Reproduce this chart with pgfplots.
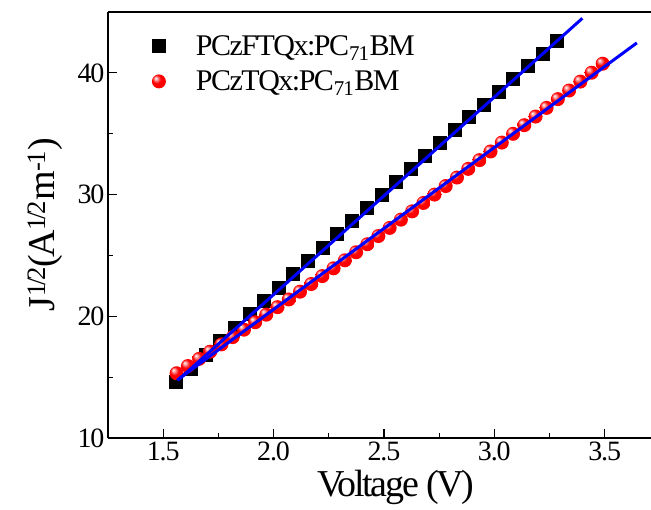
\documentclass[border=0pt]{standalone}
\usepackage{pgfplots}
\pgfplotsset{compat=1.18}
\usepackage{fontspec}
\setmainfont{Liberation Serif}

\definecolor{fitblue}{RGB}{0,0,255}
% glossy red ball like the original markers
\pgfdeclareradialshading{redball}{\pgfpoint{-12bp}{12bp}}{%
  color(0bp)=(white); color(6bp)=(red!40!white); color(15bp)=(red);
  color(35bp)=(red); color(50bp)=(red!88!black)}
\pgfdeclareplotmark{redball}{%
  \pgfpathcircle{\pgfpointorigin}{\pgfplotmarksize}%
  \pgfshadepath{redball}{0}\pgfusepath{}}

\begin{document}
\begin{tikzpicture}
\begin{axis}[
  name=ax,
  scale only axis, width=543pt, height=426pt,
  xmin=1.25, xmax=3.71, ymin=10, ymax=45,
  axis x line*=box, axis y line*=left,
  axis line style={line width=1.4pt},
  clip marker paths=true,
  xtick={1.5,2,2.5,3,3.5}, minor x tick num=1,
  ytick={10,20,30,40}, minor y tick num=1,
  xtick pos=bottom,
  tick align=inside,
  major tick length=9pt, minor tick length=5pt,
  every tick/.style={black, line width=1.2pt},
  xticklabel style={/pgf/number format/.cd, fixed, fixed zerofill, precision=1},
  /pgf/number format/assume math mode=true,
  ticklabel style={font=\fontsize{28}{30}\selectfont\addfontfeatures{LetterSpace=-4}},
  xlabel={Voltage (V)},
  ylabel={J\textsuperscript{1/2}(A\textsuperscript{1/2}m\textsuperscript{-1})},
  xlabel style={font=\fontsize{38}{40}\selectfont\addfontfeatures{LetterSpace=-6},
    at={(ticklabel cs:0.53)}, yshift=-3pt},
  ylabel style={font=\fontsize{38}{40}\selectfont\addfontfeatures{LetterSpace=-9}, yshift=8pt},
  legend style={at={(0.075,0.955)}, anchor=north west, draw=none, fill=none,
    font=\fontsize{30}{32}\selectfont\addfontfeatures{LetterSpace=-5},
    row sep=10pt, column sep=28pt},
  legend cell align=left,
]
\addplot[only marks, mark=square*, mark size=6.5pt, black] coordinates {
  (1.558,14.60) (1.624,15.73) (1.691,16.84) (1.757,17.96) (1.824,19.07)
  (1.890,20.18) (1.956,21.28) (2.023,22.38) (2.089,23.48) (2.156,24.57)
  (2.222,25.66) (2.288,26.75) (2.355,27.83) (2.421,28.91) (2.488,29.99)
  (2.554,31.06) (2.620,32.13) (2.687,33.20) (2.753,34.26) (2.820,35.32)
  (2.886,36.37) (2.952,37.42) (3.019,38.47) (3.085,39.51) (3.152,40.55)
  (3.218,41.59) (3.284,42.62)
};
\addlegendentry{PCzFTQx:PC\textsubscript{71}BM}
\addplot[only marks, mark=redball, mark size=7pt, red] coordinates {
  (1.561,15.32) (1.612,15.91) (1.663,16.50) (1.713,17.09) (1.764,17.69)
  (1.815,18.29) (1.866,18.90) (1.917,19.51) (1.967,20.13) (2.018,20.75)
  (2.069,21.38) (2.120,22.02) (2.171,22.65) (2.221,23.30) (2.272,23.94)
  (2.323,24.60) (2.374,25.26) (2.425,25.92) (2.475,26.59) (2.526,27.26)
  (2.577,27.94) (2.628,28.62) (2.679,29.31) (2.729,30.00) (2.780,30.70)
  (2.831,31.40) (2.882,32.11) (2.933,32.83) (2.983,33.54) (3.034,34.27)
  (3.085,34.99) (3.136,35.70) (3.187,36.41) (3.237,37.12) (3.288,37.84)
  (3.339,38.55) (3.390,39.28) (3.441,40.01) (3.491,40.75)
};
\addlegendentry{PCzTQx:PC\textsubscript{71}BM}
% linear fits
\addplot[fitblue, line width=3pt, forget plot] coordinates {(1.567,14.75) (3.399,44.48)};
\addplot[fitblue, line width=3pt, forget plot] coordinates {(1.563,14.75) (3.646,42.46)};
\end{axis}
\pgfresetboundingbox
\path[use as bounding box] ([xshift=-108pt,yshift=-72pt]ax.south west) rectangle ([yshift=12pt]ax.north east);
\end{tikzpicture}
\end{document}
